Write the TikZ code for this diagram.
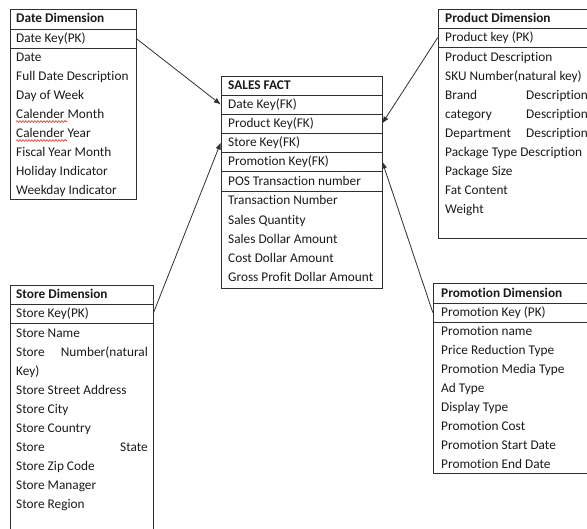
\documentclass[tikz,border=0pt]{standalone}
\usepackage{fontspec}
\setmainfont{Carlito}[Ligatures=NoCommon]
\usetikzlibrary{arrows.meta,decorations.pathmorphing}
\definecolor{ink}{HTML}{1A1A1A}
\definecolor{rulec}{HTML}{303030}
\definecolor{spell}{HTML}{E03030}
\begin{document}
\begin{tikzpicture}[x=1pt,y=-1pt,
  txt/.style={anchor=base west, inner sep=0pt, font=\fontsize{13.3}{16}\selectfont, text=ink},
  hdr/.style={anchor=base west, inner sep=0pt, font=\fontsize{13.3}{16}\selectfont\bfseries, text=ink},
  rtxt/.style={anchor=base east, inner sep=0pt, font=\fontsize{13.3}{16}\selectfont, text=ink},
  box/.style={draw=rulec, line width=0.8pt},
  keyrow/.style={inner sep=0pt, minimum height=19pt},
  squiggle/.style={draw=spell, line width=0.6pt, decorate, decoration={snake, amplitude=0.9pt, segment length=3pt}},
  link/.style={draw=rulec, line width=0.8pt, -{Latex[length=7pt,width=5.5pt]}}]
\useasboundingbox (0,0) rectangle (587,529);
\begin{scope}
\clip (0,0) rectangle (587,529);
% ---------- Date Dimension ----------
\draw[box] (10,9) rectangle (136,199);
\draw[box] (10,29) -- (136,29);
\draw[box] (10,48) -- (136,48);
\node[hdr] (dh) at (16,23) {Date Dimension};
\node[keyrow, minimum width=126pt] (dk) at (73,38.5) {};
\node[txt] (dkt) at (16,42.5) {Date Key(PK)};
\foreach \t [count=\i from 0] in {Date, Full Date Description, Day of Week, Calender Month, Calender Year, Fiscal Year Month, Holiday Indicator, Weekday Indicator}
  \node[txt] (dr\i) at (16,61.5+19*\i) {\t};
\draw[squiggle] (16,121.5) -- (67,121.5);
\draw[squiggle] (16,140.5) -- (67,140.5);
% ---------- Sales Fact ----------
\draw[box] (221,76) rectangle (382,288);
\foreach \yy in {95,114,133,152,171,191}
  \draw[box] (221,\yy) -- (382,\yy);
\node[hdr] (fh) at (228,89.8) {SALES FACT};
\node[keyrow, minimum width=161pt] (fdk) at (301.5,104.5) {};
\node[keyrow, minimum width=161pt] (fpk) at (301.5,123.5) {};
\node[keyrow, minimum width=161pt] (fsk) at (301.5,142.5) {};
\node[keyrow, minimum width=161pt] (fpr) at (301.5,161.5) {};
\node[txt] (f1) at (228,108.8) {Date Key(FK)};
\node[txt] (f2) at (228,127.8) {Product Key(FK)};
\node[txt] (f3) at (228,146.8) {Store Key(FK)};
\node[txt] (f4) at (228,165.8) {Promotion Key(FK)};
\node[txt] (f5) at (228,185.3) {POS Transaction number};
\foreach \t [count=\i from 0] in {Transaction Number, Sales Quantity, Sales Dollar Amount, Cost Dollar Amount, Gross Profit Dollar Amount}
  \node[txt] (fr\i) at (228,204.8+19.25*\i) {\t};
% ---------- Product Dimension ----------
\draw[box] (438,9) rectangle (600,238);
\draw[box] (438,28) -- (600,28);
\draw[box] (438,47) -- (600,47);
\node[hdr] (ph) at (445,22.8) {Product Dimension};
\node[keyrow, minimum width=162pt] (pk) at (519,37.5) {};
\node[txt] (pkt) at (445,41.8) {Product key (PK)};
\node[txt] (p0) at (445,61.3) {Product Description};
\node[txt] (p1) at (445,80.3) {SKU Number(natural key)};
\node[txt] (p2) at (445,99.3) {Brand};
\node[txt] (p2b) at (526,99.3) {Description};
\node[txt] (p3) at (445,118.3) {category};
\node[txt] (p3b) at (526,118.3) {Description};
\node[txt] (p4) at (445,137.3) {Department};
\node[txt] (p4b) at (526,137.3) {Description};
\node[txt] (p5) at (445,156.3) {Package Type Description};
\node[txt] (p6) at (445,175.3) {Package Size};
\node[txt] (p7) at (445,194.3) {Fat Content};
\node[txt] (p8) at (445,213.3) {Weight};
% ---------- Store Dimension ----------
\draw[box] (10,285) rectangle (153,545);
\draw[box] (10,304) -- (153,304);
\draw[box] (10,323) -- (153,323);
\node[hdr] (sh) at (16,298.8) {Store Dimension};
\node[keyrow, minimum width=143pt] (sk) at (81.5,313.5) {};
\node[txt] (skt) at (16,317.8) {Store Key(PK)};
\node[txt] (s0) at (16,337.3) {Store Name};
\node[txt] (s1) at (16,356.3) {Store};
\node[rtxt] (s1b) at (148,356.3) {Number(natural};
\node[txt] (s2) at (16,375.3) {Key)};
\node[txt] (s3) at (16,394.3) {Store Street Address};
\node[txt] (s4) at (16,413.3) {Store City};
\node[txt] (s5) at (16,432.3) {Store Country};
\node[txt] (s6) at (16,451.3) {Store};
\node[rtxt] (s6b) at (148,451.3) {State};
\node[txt] (s7) at (16,470.3) {Store Zip Code};
\node[txt] (s8) at (16,489.3) {Store Manager};
\node[txt] (s9) at (16,508.3) {Store Region};
% ---------- Promotion Dimension ----------
\draw[box] (433,283) rectangle (600,473);
\draw[box] (433,303) -- (600,303);
\draw[box] (433,322) -- (600,322);
\node[hdr] (rh) at (441,297.3) {Promotion Dimension};
\node[keyrow, minimum width=167pt] (prk) at (516.5,312.5) {};
\node[txt] (rkt) at (441,316.8) {Promotion Key (PK)};
\foreach \t [count=\i from 0] in {Promotion name, Price Reduction Type, Promotion Media Type, Ad Type, Display Type, Promotion Cost, Promotion Start Date, Promotion End Date}
  \node[txt] (rr\i) at (441,335.8+19*\i) {\t};
\end{scope}
% ---------- Connectors ----------
\draw[link] (dk.east) -- (fdk.west);
\draw[link] (pk.west) -- (fpk.east);
\draw[link] (sk.east) -- (fsk.west);
\draw[link] (prk.west) -- (fpr.east);
\end{tikzpicture}
\end{document}
